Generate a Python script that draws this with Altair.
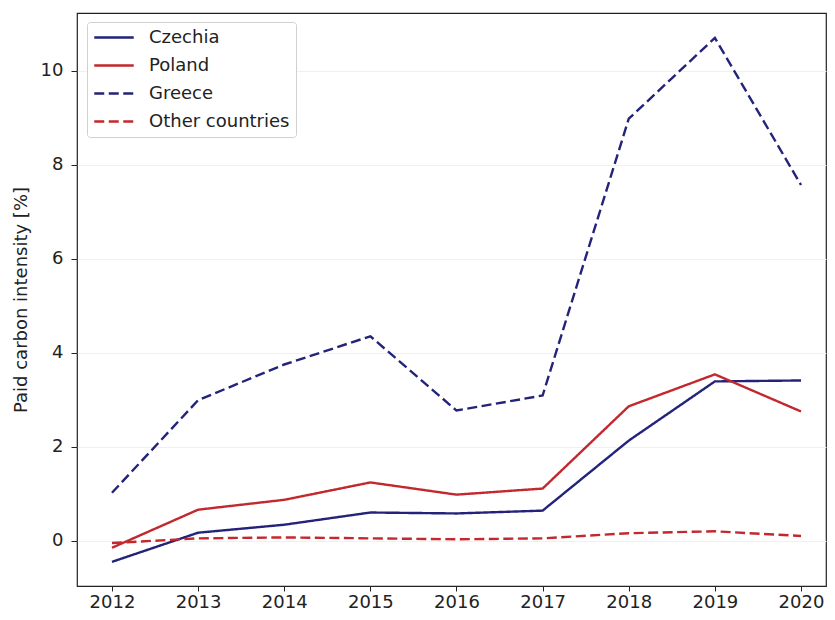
import altair as alt
import pandas as pd

years = [2012, 2013, 2014, 2015, 2016, 2017, 2018, 2019, 2020]
czechia = [-0.45, 0.17, 0.34, 0.60, 0.58, 0.64, 2.13, 3.39, 3.41]
poland = [-0.15, 0.66, 0.87, 1.24, 0.98, 1.11, 2.86, 3.54, 2.75]
greece = [1.02, 2.99, 3.75, 4.35, 2.77, 3.09, 8.98, 10.70, 7.57]
other = [-0.05, 0.05, 0.07, 0.05, 0.03, 0.05, 0.16, 0.20, 0.10]

series = ["Czechia", "Poland", "Greece", "Other countries"]
colors = ["#23237a", "#c2282e", "#23237a", "#c2282e"]
dashes = [[1, 0], [1, 0], [10, 4.5], [10, 4.5]]

rows = []
for name, vals in zip(series, [czechia, poland, greece, other]):
    for y, v in zip(years, vals):
        rows.append({"year": y, "value": v, "country": name})
df = pd.DataFrame(rows)

legend = alt.Legend(
    title=None, orient="none", legendX=10, legendY=9,
    symbolType="stroke", symbolSize=1560, symbolStrokeWidth=2.4,
    labelFontSize=18, labelFont="DejaVu Sans", labelColor="#222",
    fillColor="white", strokeColor="#d0d0d0", padding=6, cornerRadius=3,
    clipHeight=19, rowPadding=9, labelOffset=14, labelLimit=300,
)

chart = alt.Chart(df).mark_line(strokeWidth=2.4).encode(
    x=alt.X("year:Q", scale=alt.Scale(domain=[2011.594, 2020.29], nice=False, zero=False),
            axis=alt.Axis(values=years, format="d", title=None, grid=False,
                          tickSize=5, labelPadding=2)),
    y=alt.Y("value:Q", scale=alt.Scale(domain=[-0.964, 11.23], nice=False, zero=False),
            axis=alt.Axis(values=[0, 2, 4, 6, 8, 10], title="Paid carbon intensity [%]",
                          grid=True, gridColor="#f0f0f0", titlePadding=10,
                          tickSize=6, labelPadding=8)),
    color=alt.Color("country:N", scale=alt.Scale(domain=series, range=colors), legend=legend),
    strokeDash=alt.StrokeDash("country:N", scale=alt.Scale(domain=series, range=dashes), legend=legend),
    detail="country:N",
).properties(
    width=749, height=573,
    autosize=alt.AutoSizeParams(type="none"),
    padding={"left": 69, "top": 5, "right": 1, "bottom": 26},
).configure_axis(
    labelFont="DejaVu Sans", labelFontSize=18, labelColor="#222",
    titleFont="DejaVu Sans", titleFontSize=18, titleFontWeight="normal", titleColor="#222",
    domain=False, tickColor="#222",
).configure_view(stroke="#222", strokeWidth=1.2)

chart.save("out.html", embed_options={"renderer": "svg", "actions": False})
